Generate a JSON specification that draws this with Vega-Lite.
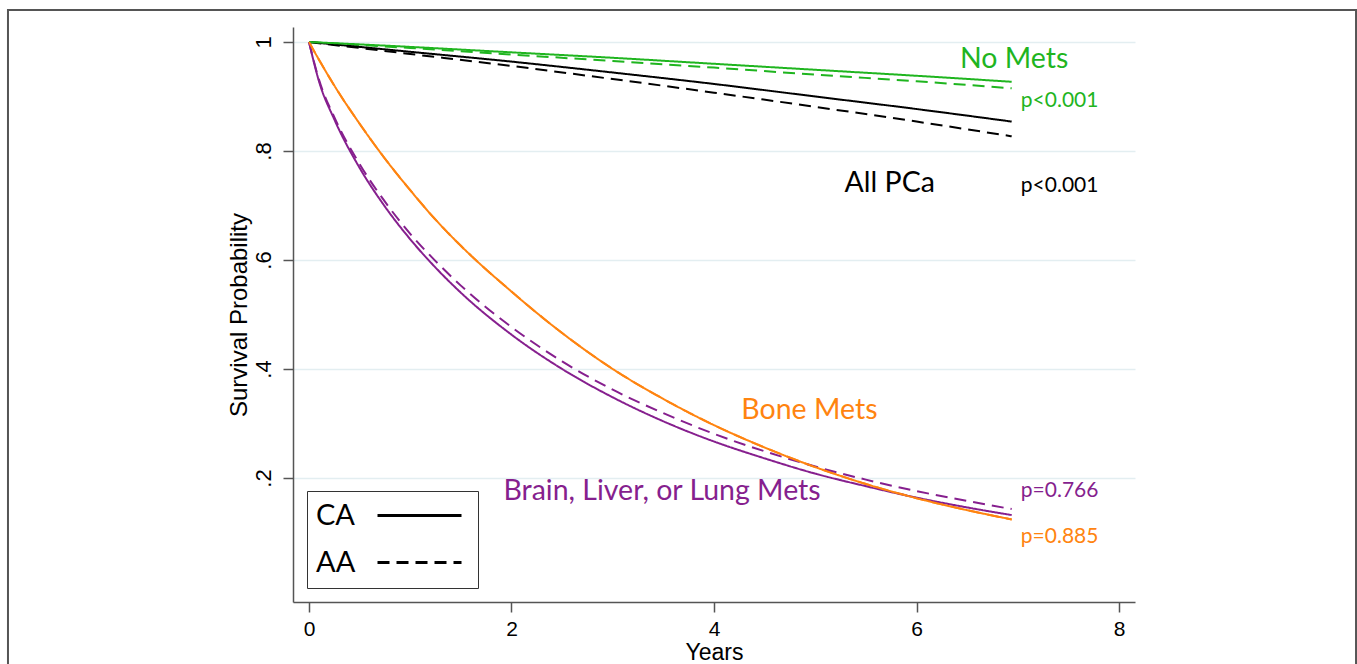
{
  "$schema": "https://vega.github.io/schema/vega-lite/v6.json",
  "width": 842,
  "height": 575,
  "autosize": "none",
  "padding": {"left": 293, "top": 27, "right": 222, "bottom": 62},
  "background": "white",
  "config": {
    "view": {"stroke": null},
    "axis": {"labelFont": "Liberation Sans", "titleFont": "Liberation Sans", "titleFontWeight": "normal", "labelColor": "black", "titleColor": "black", "domainColor": "#555", "tickColor": "#555", "domainWidth": 1.5, "tickWidth": 1.5}
  },
  "datasets": {
    "curves": [
      {"group": "Bone Mets", "race": "AA", "t": 0, "s": 1},
      {"group": "Bone Mets", "race": "AA", "t": 0.1, "s": 0.967},
      {"group": "Bone Mets", "race": "AA", "t": 0.25, "s": 0.92},
      {"group": "Bone Mets", "race": "AA", "t": 0.5, "s": 0.85},
      {"group": "Bone Mets", "race": "AA", "t": 0.75, "s": 0.786},
      {"group": "Bone Mets", "race": "AA", "t": 1, "s": 0.728},
      {"group": "Bone Mets", "race": "AA", "t": 1.25, "s": 0.674},
      {"group": "Bone Mets", "race": "AA", "t": 1.5, "s": 0.626},
      {"group": "Bone Mets", "race": "AA", "t": 2, "s": 0.542},
      {"group": "Bone Mets", "race": "AA", "t": 2.5, "s": 0.466},
      {"group": "Bone Mets", "race": "AA", "t": 3, "s": 0.4},
      {"group": "Bone Mets", "race": "AA", "t": 3.5, "s": 0.345},
      {"group": "Bone Mets", "race": "AA", "t": 4, "s": 0.297},
      {"group": "Bone Mets", "race": "AA", "t": 4.5, "s": 0.256},
      {"group": "Bone Mets", "race": "AA", "t": 5, "s": 0.22},
      {"group": "Bone Mets", "race": "AA", "t": 5.5, "s": 0.189},
      {"group": "Bone Mets", "race": "AA", "t": 6, "s": 0.163},
      {"group": "Bone Mets", "race": "AA", "t": 6.5, "s": 0.141},
      {"group": "Bone Mets", "race": "AA", "t": 6.94, "s": 0.124},
      {"group": "All PCa", "race": "AA", "t": 0, "s": 1},
      {"group": "All PCa", "race": "AA", "t": 1, "s": 0.978},
      {"group": "All PCa", "race": "AA", "t": 2, "s": 0.956},
      {"group": "All PCa", "race": "AA", "t": 3, "s": 0.932},
      {"group": "All PCa", "race": "AA", "t": 4, "s": 0.907},
      {"group": "All PCa", "race": "AA", "t": 5, "s": 0.881},
      {"group": "All PCa", "race": "AA", "t": 6, "s": 0.854},
      {"group": "All PCa", "race": "AA", "t": 6.94, "s": 0.827},
      {"group": "No Mets", "race": "AA", "t": 0, "s": 1},
      {"group": "No Mets", "race": "AA", "t": 1, "s": 0.989},
      {"group": "No Mets", "race": "AA", "t": 2, "s": 0.977},
      {"group": "No Mets", "race": "AA", "t": 3, "s": 0.965},
      {"group": "No Mets", "race": "AA", "t": 4, "s": 0.953},
      {"group": "No Mets", "race": "AA", "t": 5, "s": 0.94},
      {"group": "No Mets", "race": "AA", "t": 6, "s": 0.928},
      {"group": "No Mets", "race": "AA", "t": 6.94, "s": 0.915},
      {"group": "Brain, Liver, or Lung Mets", "race": "AA", "t": 0, "s": 1},
      {"group": "Brain, Liver, or Lung Mets", "race": "AA", "t": 0.1, "s": 0.93},
      {"group": "Brain, Liver, or Lung Mets", "race": "AA", "t": 0.25, "s": 0.862},
      {"group": "Brain, Liver, or Lung Mets", "race": "AA", "t": 0.5, "s": 0.776},
      {"group": "Brain, Liver, or Lung Mets", "race": "AA", "t": 0.75, "s": 0.707},
      {"group": "Brain, Liver, or Lung Mets", "race": "AA", "t": 1, "s": 0.648},
      {"group": "Brain, Liver, or Lung Mets", "race": "AA", "t": 1.25, "s": 0.598},
      {"group": "Brain, Liver, or Lung Mets", "race": "AA", "t": 1.5, "s": 0.553},
      {"group": "Brain, Liver, or Lung Mets", "race": "AA", "t": 2, "s": 0.477},
      {"group": "Brain, Liver, or Lung Mets", "race": "AA", "t": 2.5, "s": 0.414},
      {"group": "Brain, Liver, or Lung Mets", "race": "AA", "t": 3, "s": 0.362},
      {"group": "Brain, Liver, or Lung Mets", "race": "AA", "t": 3.5, "s": 0.319},
      {"group": "Brain, Liver, or Lung Mets", "race": "AA", "t": 4, "s": 0.281},
      {"group": "Brain, Liver, or Lung Mets", "race": "AA", "t": 4.5, "s": 0.249},
      {"group": "Brain, Liver, or Lung Mets", "race": "AA", "t": 5, "s": 0.221},
      {"group": "Brain, Liver, or Lung Mets", "race": "AA", "t": 5.5, "s": 0.197},
      {"group": "Brain, Liver, or Lung Mets", "race": "AA", "t": 6, "s": 0.176},
      {"group": "Brain, Liver, or Lung Mets", "race": "AA", "t": 6.5, "s": 0.158},
      {"group": "Brain, Liver, or Lung Mets", "race": "AA", "t": 6.94, "s": 0.143},
      {"group": "All PCa", "race": "CA", "t": 0, "s": 1},
      {"group": "All PCa", "race": "CA", "t": 1, "s": 0.982},
      {"group": "All PCa", "race": "CA", "t": 2, "s": 0.964},
      {"group": "All PCa", "race": "CA", "t": 3, "s": 0.944},
      {"group": "All PCa", "race": "CA", "t": 4, "s": 0.923},
      {"group": "All PCa", "race": "CA", "t": 5, "s": 0.9},
      {"group": "All PCa", "race": "CA", "t": 6, "s": 0.877},
      {"group": "All PCa", "race": "CA", "t": 6.94, "s": 0.854},
      {"group": "No Mets", "race": "CA", "t": 0, "s": 1},
      {"group": "No Mets", "race": "CA", "t": 1, "s": 0.991},
      {"group": "No Mets", "race": "CA", "t": 2, "s": 0.981},
      {"group": "No Mets", "race": "CA", "t": 3, "s": 0.971},
      {"group": "No Mets", "race": "CA", "t": 4, "s": 0.96},
      {"group": "No Mets", "race": "CA", "t": 5, "s": 0.949},
      {"group": "No Mets", "race": "CA", "t": 6, "s": 0.938},
      {"group": "No Mets", "race": "CA", "t": 6.94, "s": 0.927},
      {"group": "Brain, Liver, or Lung Mets", "race": "CA", "t": 0, "s": 1},
      {"group": "Brain, Liver, or Lung Mets", "race": "CA", "t": 0.1, "s": 0.927},
      {"group": "Brain, Liver, or Lung Mets", "race": "CA", "t": 0.25, "s": 0.858},
      {"group": "Brain, Liver, or Lung Mets", "race": "CA", "t": 0.5, "s": 0.769},
      {"group": "Brain, Liver, or Lung Mets", "race": "CA", "t": 0.75, "s": 0.698},
      {"group": "Brain, Liver, or Lung Mets", "race": "CA", "t": 1, "s": 0.638},
      {"group": "Brain, Liver, or Lung Mets", "race": "CA", "t": 1.25, "s": 0.586},
      {"group": "Brain, Liver, or Lung Mets", "race": "CA", "t": 1.5, "s": 0.54},
      {"group": "Brain, Liver, or Lung Mets", "race": "CA", "t": 2, "s": 0.463},
      {"group": "Brain, Liver, or Lung Mets", "race": "CA", "t": 2.5, "s": 0.4},
      {"group": "Brain, Liver, or Lung Mets", "race": "CA", "t": 3, "s": 0.348},
      {"group": "Brain, Liver, or Lung Mets", "race": "CA", "t": 3.5, "s": 0.304},
      {"group": "Brain, Liver, or Lung Mets", "race": "CA", "t": 4, "s": 0.267},
      {"group": "Brain, Liver, or Lung Mets", "race": "CA", "t": 4.5, "s": 0.236},
      {"group": "Brain, Liver, or Lung Mets", "race": "CA", "t": 5, "s": 0.208},
      {"group": "Brain, Liver, or Lung Mets", "race": "CA", "t": 5.5, "s": 0.185},
      {"group": "Brain, Liver, or Lung Mets", "race": "CA", "t": 6, "s": 0.164},
      {"group": "Brain, Liver, or Lung Mets", "race": "CA", "t": 6.5, "s": 0.146},
      {"group": "Brain, Liver, or Lung Mets", "race": "CA", "t": 6.94, "s": 0.132},
      {"group": "Bone Mets", "race": "CA", "t": 0, "s": 1},
      {"group": "Bone Mets", "race": "CA", "t": 0.1, "s": 0.967},
      {"group": "Bone Mets", "race": "CA", "t": 0.25, "s": 0.92},
      {"group": "Bone Mets", "race": "CA", "t": 0.5, "s": 0.85},
      {"group": "Bone Mets", "race": "CA", "t": 0.75, "s": 0.786},
      {"group": "Bone Mets", "race": "CA", "t": 1, "s": 0.728},
      {"group": "Bone Mets", "race": "CA", "t": 1.25, "s": 0.674},
      {"group": "Bone Mets", "race": "CA", "t": 1.5, "s": 0.626},
      {"group": "Bone Mets", "race": "CA", "t": 2, "s": 0.542},
      {"group": "Bone Mets", "race": "CA", "t": 2.5, "s": 0.466},
      {"group": "Bone Mets", "race": "CA", "t": 3, "s": 0.4},
      {"group": "Bone Mets", "race": "CA", "t": 3.5, "s": 0.345},
      {"group": "Bone Mets", "race": "CA", "t": 4, "s": 0.297},
      {"group": "Bone Mets", "race": "CA", "t": 4.5, "s": 0.256},
      {"group": "Bone Mets", "race": "CA", "t": 5, "s": 0.22},
      {"group": "Bone Mets", "race": "CA", "t": 5.5, "s": 0.189},
      {"group": "Bone Mets", "race": "CA", "t": 6, "s": 0.163},
      {"group": "Bone Mets", "race": "CA", "t": 6.5, "s": 0.141},
      {"group": "Bone Mets", "race": "CA", "t": 6.94, "s": 0.124}
    ],
    "names": [
      {"label": "No Mets", "group": "No Mets", "t": 6.43, "s": 0.969},
      {"label": "All PCa", "group": "All PCa", "t": 5.29, "s": 0.741},
      {"label": "Bone Mets", "group": "Bone Mets", "t": 4.27, "s": 0.325},
      {"label": "Brain, Liver, or Lung Mets", "group": "Brain, Liver, or Lung Mets", "t": 1.92, "s": 0.176}
    ],
    "pvalues": [
      {"label": "p<0.001", "group": "No Mets", "t": 7.03, "s": 0.892},
      {"label": "p<0.001", "group": "All PCa", "t": 7.03, "s": 0.736},
      {"label": "p=0.766", "group": "Brain, Liver, or Lung Mets", "t": 7.03, "s": 0.176},
      {"label": "p=0.885", "group": "Bone Mets", "t": 7.03, "s": 0.092}
    ]
  },
  "layer": [
    {
      "data": {"values": [{"frame": "outer"}]},
      "mark": {"type": "rect", "filled": false, "stroke": "#555", "strokeWidth": 2, "clip": false},
      "encoding": {
        "x": {"datum": -2.973, "type": "quantitative", "scale": {"domain": [-0.158, 8.158], "nice": false, "zero": false}},
        "x2": {"datum": 10.341},
        "y": {"datum": 1.0587, "type": "quantitative", "scale": {"domain": [-0.0275, 1.0275], "nice": false, "zero": false}},
        "y2": {"datum": -0.2}
      }
    },
    {
      "data": {"name": "curves"},
      "mark": {"type": "line", "strokeWidth": 2, "interpolate": "monotone"},
      "encoding": {
        "x": {"field": "t", "type": "quantitative",
          "scale": {"domain": [-0.158, 8.158], "nice": false, "zero": false},
          "axis": {"values": [0, 2, 4, 6, 8], "format": "d", "title": "Years", "grid": false, "tickSize": 10, "labelFontSize": 21, "titleFontSize": 23, "labelPadding": 6, "titlePadding": 2}},
        "y": {"field": "s", "type": "quantitative",
          "scale": {"domain": [-0.0275, 1.0275], "nice": false, "zero": false},
          "axis": {"values": [0.2, 0.4, 0.6, 0.8, 1], "title": "Survival Probability", "grid": true, "gridColor": "#e3eef1", "gridWidth": 1.5, "tickSize": 10, "labelFontSize": 22, "titleFontSize": 24, "labelAngle": -90, "labelAlign": "center", "labelBaseline": "bottom", "labelPadding": 8, "titlePadding": 1,
            "labelExpr": "datum.value == 1 ? '1' : '.' + format(datum.value * 10, 'd')"}},
        "color": {"field": "group", "type": "nominal", "legend": null,
          "scale": {"domain": ["No Mets", "All PCa", "Bone Mets", "Brain, Liver, or Lung Mets"], "range": ["#1fb51f", "#000000", "#ff8410", "#861f8e"]}},
        "strokeDash": {"field": "race", "type": "nominal",
          "scale": {"domain": ["CA", "AA"], "range": [[1, 0], [12, 7]]},
          "legend": {"title": null, "orient": "none", "legendX": 14, "legendY": 464, "symbolType": "M 4.6 0 L 13 0", "symbolSize": 400, "symbolStrokeWidth": 3, "symbolStrokeColor": "black", "symbolFillColor": "transparent", "labelFont": "Lato", "labelFontSize": 29, "labelColor": "black", "labelOffset": -30, "padding": 10, "rowPadding": 17, "strokeColor": "#333", "fillColor": "white"}}
      }
    },
    {
      "data": {"name": "names"},
      "mark": {"type": "text", "align": "left", "baseline": "middle", "font": "Lato", "fontSize": 28.5},
      "encoding": {
        "x": {"field": "t", "type": "quantitative"},
        "y": {"field": "s", "type": "quantitative"},
        "text": {"field": "label"},
        "color": {"field": "group", "type": "nominal", "legend": null}
      }
    },
    {
      "data": {"name": "pvalues"},
      "mark": {"type": "text", "align": "left", "baseline": "middle", "font": "Lato", "fontSize": 21},
      "encoding": {
        "x": {"field": "t", "type": "quantitative"},
        "y": {"field": "s", "type": "quantitative"},
        "text": {"field": "label"},
        "color": {"field": "group", "type": "nominal", "legend": null}
      }
    }
  ]
}
